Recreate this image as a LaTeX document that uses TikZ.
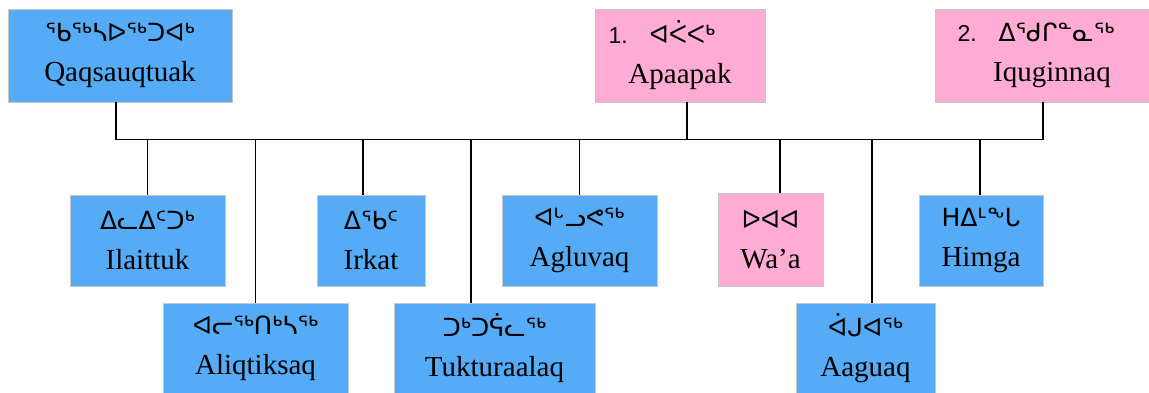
\documentclass[tikz,border=0pt]{standalone}
\usepackage{fontspec}
\setmainfont{Liberation Serif}
\newfontfamily\sylfont{DejaVu Sans}
\newfontfamily\numfont{Liberation Sans}
\usetikzlibrary{positioning}
\definecolor{boyblue}{RGB}{85,171,245}
\definecolor{girlpink}{RGB}{255,172,212}
\newcommand{\syl}[1]{{\sylfont\fontsize{25}{40}\selectfont #1}}
\newcommand{\num}[1]{{\numfont\fontsize{23}{40}\selectfont #1}}
\tikzstyle{person}=[draw=gray!45, line width=0.7pt, align=center, inner sep=0pt, minimum height=91pt, font=\fontsize{29}{40}\selectfont]
\tikzstyle{boy}=[person, fill=boyblue]
\tikzstyle{girl}=[person, fill=girlpink]
\tikzstyle{bar}=[draw, line width=1.3pt]

\begin{document}
\begin{tikzpicture}
    \useasboundingbox (-120pt,55.5pt) rectangle (1029pt,-336.5pt);
    % parents
    \node (qaq) [boy, minimum width=224pt, minimum height=93pt] {\syl{ᖃᖅᓴᐅᖅᑐᐊᒃ}\\Qaqsauqtuak};
    \node (apa) [girl, right of=qaq, node distance=560pt, minimum width=170pt, minimum height=93pt] {\num{1.}\ \ \ \syl{ᐊᐹᐸᒃ}\hspace*{36pt}\\Apaapak};
    \node (iqu) [girl, right of=apa, node distance=362pt, minimum width=214pt, minimum height=93pt] {\num{2.}\ \ \ \syl{ᐃᖁᒋᓐᓇᖅ}\hspace*{12pt}\\\hspace*{20pt}Iquginnaq};
    %
    \node (ila) [boy, below of=qaq, node distance=185pt, xshift=27.5pt, minimum width=155pt] {\syl{ᐃᓚᐃᑦᑐᒃ}\\Ilaittuk};
    \node (irk) [boy, right of=ila, node distance=223.5pt, minimum width=108pt] {\syl{ᐃᖃᑦ}\\Irkat};
    \node (agl) [boy, right of=irk, node distance=208.5pt, minimum width=155pt] {\syl{ᐊᒡᓗᕙᖅ}\\Agluvaq};
    \node (waa) [girl, right of=agl, node distance=191pt, yshift=1pt, minimum width=105pt, minimum height=93pt] {\syl{ᐅᐊᐊ}\\Wa’a};
    \node (him) [boy, right of=agl, node distance=401.5pt, minimum width=124pt] {\syl{ᕼᐃᒻᖕᒐ}\\Himga};
    %
    \node (ali) [boy, below of=ila, node distance=108pt, xshift=108pt, minimum width=185pt] {\syl{ᐊᓕᖅᑎᒃᓴᖅ}\\Aliqtiksaq};
    \node (tuk) [boy, right of=ali, node distance=239pt, minimum width=201pt] {\syl{ᑐᒃᑐᕌᓚᖅ}\\Tukturaalaq};
    \node (aag) [boy, right of=tuk, node distance=371pt, minimum width=139pt] {\syl{ᐋᒍᐊᖅ}\\Aaguaq};
    %
    \coordinate (bus) at ([yshift=-37pt]qaq.south);
    \draw [bar] ([xshift=-4pt]qaq.south) |- ([xshift=1pt]iqu.south |- bus) -- ([xshift=1pt]iqu.south);
    \draw [bar] ([xshift=7pt]apa.south) -- ([xshift=7pt]apa.south |- bus);
    \draw [bar] (ila.north) -- (ila.north |- bus);
    \draw [bar] ([xshift=-8pt]irk.north) -- ([xshift=-8pt]irk.north |- bus);
    \draw [bar] (agl.north) -- (agl.north |- bus);
    \draw [bar] ([xshift=9.5pt]waa.north) -- ([xshift=9.5pt]waa.north |- bus);
    \draw [bar] ([xshift=-1pt]him.north) -- ([xshift=-1pt]him.north |- bus);
    \draw [bar] (ali.north) -- (ali.north |- bus);
    \draw [bar] ([xshift=-23.5pt]tuk.north) -- ([xshift=-23.5pt]tuk.north |- bus);
    \draw [bar] ([xshift=6.5pt]aag.north) -- ([xshift=6.5pt]aag.north |- bus);
\end{tikzpicture}
\end{document}
